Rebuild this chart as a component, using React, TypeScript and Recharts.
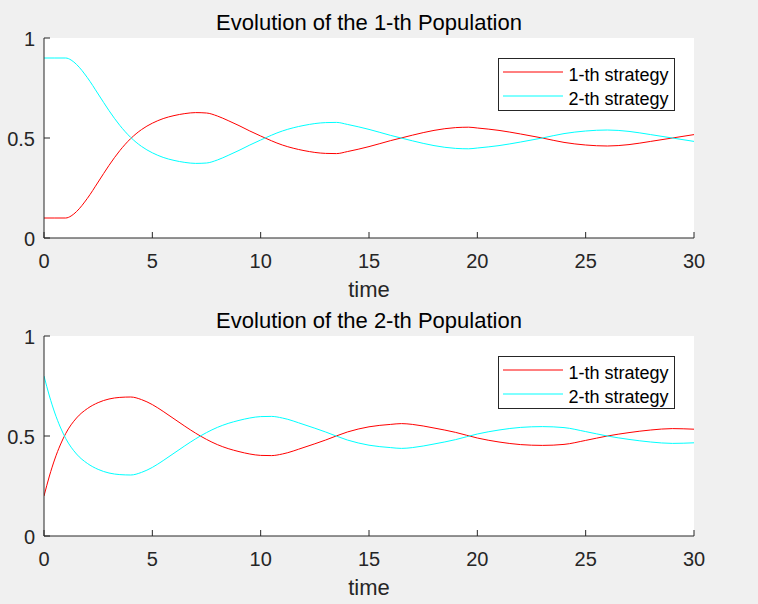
import React from 'react';
import { LineChart, Line, XAxis, YAxis, CartesianGrid, Legend } from 'recharts';

const time1 = [0, 0.5, 1, 1.25, 1.5, 2, 2.5, 3, 3.5, 4, 4.5, 5, 5.5, 6, 6.5, 7, 7.5, 8, 8.5, 9, 9.5, 10, 11, 12, 13, 13.5, 14, 15, 16, 17, 18, 19, 19.6, 20, 21, 22, 23, 24, 25, 26, 27, 28, 29, 30];
const pop1Strategy1 = [0.1, 0.1, 0.1, 0.11, 0.132, 0.198, 0.28, 0.363, 0.437, 0.497, 0.542, 0.574, 0.597, 0.612, 0.622, 0.627, 0.625, 0.61, 0.587, 0.562, 0.535, 0.51, 0.465, 0.437, 0.423, 0.422, 0.432, 0.457, 0.487, 0.514, 0.538, 0.552, 0.554, 0.55, 0.538, 0.52, 0.5, 0.478, 0.465, 0.46, 0.467, 0.483, 0.5, 0.517];
const pop1Strategy2 = [0.9, 0.9, 0.9, 0.89, 0.868, 0.802, 0.72, 0.637, 0.563, 0.503, 0.458, 0.426, 0.403, 0.388, 0.378, 0.373, 0.375, 0.39, 0.413, 0.438, 0.465, 0.49, 0.535, 0.563, 0.577, 0.578, 0.568, 0.543, 0.513, 0.486, 0.462, 0.448, 0.446, 0.45, 0.462, 0.48, 0.5, 0.522, 0.535, 0.54, 0.533, 0.517, 0.5, 0.483];

const time2 = [0, 0.25, 0.5, 0.75, 1, 1.5, 2, 2.5, 3, 3.5, 4, 4.5, 5, 5.5, 6, 6.5, 7, 7.5, 8, 8.5, 9, 9.5, 10, 10.5, 11, 12, 13, 14, 15, 16, 16.5, 17, 18, 19, 20, 21, 22, 23, 24, 25, 26, 27, 28, 29, 30];
const pop2Strategy1 = [0.2, 0.3, 0.385, 0.455, 0.512, 0.59, 0.637, 0.667, 0.685, 0.693, 0.695, 0.682, 0.657, 0.623, 0.586, 0.549, 0.514, 0.483, 0.457, 0.437, 0.422, 0.41, 0.403, 0.402, 0.41, 0.443, 0.48, 0.52, 0.546, 0.558, 0.562, 0.558, 0.54, 0.518, 0.49, 0.47, 0.457, 0.453, 0.458, 0.478, 0.5, 0.517, 0.53, 0.537, 0.534];
const pop2Strategy2 = [0.8, 0.7, 0.615, 0.545, 0.488, 0.41, 0.363, 0.333, 0.315, 0.307, 0.305, 0.318, 0.343, 0.377, 0.414, 0.451, 0.486, 0.517, 0.543, 0.563, 0.578, 0.59, 0.597, 0.598, 0.59, 0.557, 0.52, 0.48, 0.454, 0.442, 0.438, 0.442, 0.46, 0.482, 0.51, 0.53, 0.543, 0.547, 0.542, 0.522, 0.5, 0.483, 0.47, 0.463, 0.466];

const xTicks = [0, 5, 10, 15, 20, 25, 30];
const yTicks = [0, 0.5, 1];
const yTickLabels = ['0', '0.5', '1'];
const seriesNames = ['1-th strategy', '2-th strategy'];
const titles = ['Evolution of the 1-th Population', 'Evolution of the 2-th Population'];
const xLabel = 'time';

const FONT = '"Liberation Sans", Arial, Helvetica, sans-serif';
const AXIS = '#262626';
const RED = '#ff0000';
const CYAN = '#00ffff';

const XTick = (props: any) => {
  const { x, y, payload } = props;
  return (
    <g>
      <line x1={x} y1={y} x2={x} y2={y - 6} stroke={AXIS} strokeWidth={1} />
      <text x={x} y={y + 29.5} textAnchor="middle" fill={AXIS} fontSize={20} fontFamily={FONT}>
        {String(payload.value)}
      </text>
    </g>
  );
};

const YTick = (props: any) => {
  const { x, y, payload } = props;
  const idx = yTicks.indexOf(payload.value);
  return (
    <g>
      <line x1={x} y1={y} x2={x + 6} y2={y} stroke={AXIS} strokeWidth={1} />
      <text x={x - 9} y={y + 8} textAnchor="end" fill={AXIS} fontSize={20} fontFamily={FONT}>
        {idx >= 0 ? yTickLabels[idx] : String(payload.value)}
      </text>
    </g>
  );
};

const LegendBox = () => (
  <svg width={178} height={54} style={{ display: 'block' }}>
    <rect x={0.5} y={0.5} width={176} height={52} fill="#ffffff" stroke={AXIS} strokeWidth={1} />
    <line x1={5} y1={14} x2={65} y2={14} stroke={RED} strokeWidth={1} />
    <text x={70.5} y={23} fontSize={18} fontFamily={FONT} fill="#000">{seriesNames[0]}</text>
    <line x1={5} y1={38} x2={65} y2={38} stroke={CYAN} strokeWidth={1} />
    <text x={70.5} y={46.5} fontSize={18} fontFamily={FONT} fill="#000">{seriesNames[1]}</text>
  </svg>
);

function Panel({ times, s1, s2, title, top }: { times: number[]; s1: number[]; s2: number[]; title: string; top: number }) {
  const data = times.map((t, i) => ({ t, a: s1[i], b: s2[i] }));
  return (
    <div style={{ position: 'absolute', left: 0, top, width: 758, height: 302 }}>
      <LineChart width={758} height={302} data={data} margin={{ top: 38, right: 64, left: 14, bottom: 34 }}>
        <CartesianGrid fill="#ffffff" horizontal={false} vertical={false} stroke="none" />
        <XAxis
          dataKey="t"
          type="number"
          domain={[0, 30]}
          ticks={xTicks}
          height={30}
          tickSize={0}
          tickMargin={0}
          tickLine={false}
          axisLine={{ stroke: AXIS, strokeWidth: 1 }}
          tick={<XTick />}
          allowDataOverflow
        />
        <YAxis
          type="number"
          domain={[0, 1]}
          ticks={yTicks}
          width={30}
          tickSize={0}
          tickMargin={0}
          tickLine={false}
          axisLine={{ stroke: AXIS, strokeWidth: 1 }}
          tick={<YTick />}
          allowDataOverflow
        />
        <Line type="monotone" dataKey="a" name={seriesNames[0]} stroke={RED} strokeWidth={1} dot={false} activeDot={false} isAnimationActive={false} />
        <Line type="monotone" dataKey="b" name={seriesNames[1]} stroke={CYAN} strokeWidth={1} dot={false} activeDot={false} isAnimationActive={false} />
        <Legend
          layout="vertical"
          align="center"
          verticalAlign="middle"
          content={<LegendBox />}
          wrapperStyle={{ left: 498, top: 58, width: 178, height: 54 }}
        />
      </LineChart>
      <svg width={758} height={302} style={{ position: 'absolute', left: 0, top: 0, pointerEvents: 'none' }}>
        <text x={369} y={30} textAnchor="middle" fontSize={22} fontFamily={FONT} fill="#000">{title}</text>
        <text x={369} y={297} textAnchor="middle" fontSize={22} fontFamily={FONT} fill={AXIS}>{xLabel}</text>
      </svg>
    </div>
  );
}

export default function App() {
  return (
    <div style={{ position: 'absolute', left: 0, top: 0, width: 758, height: 604, background: '#f0f0f0', overflow: 'hidden' }}>
      <Panel times={time1} s1={pop1Strategy1} s2={pop1Strategy2} title={titles[0]} top={0} />
      <Panel times={time2} s1={pop2Strategy1} s2={pop2Strategy2} title={titles[1]} top={298} />
    </div>
  );
}
